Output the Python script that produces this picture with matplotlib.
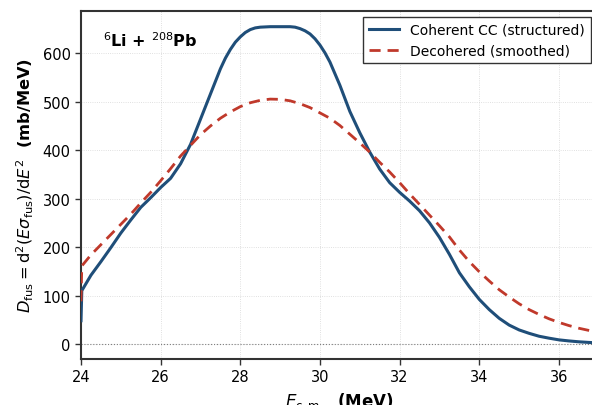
import matplotlib
matplotlib.use("Agg")
import matplotlib.pyplot as plt

# Coherent CC (structured)
E_coh = [24.0, 24.02, 24.25, 24.5, 24.75, 25.0, 25.25, 25.5, 25.75, 26.0, 26.25, 26.5, 26.75,
         27.0, 27.25, 27.5, 27.625, 27.75, 27.875, 28.0, 28.125, 28.25, 28.375, 28.5, 28.75,
         29.0, 29.25, 29.375, 29.5, 29.625, 29.75, 29.875, 30.0, 30.125, 30.25, 30.5, 30.75,
         31.0, 31.25, 31.5, 31.75, 32.0, 32.25, 32.5, 32.75, 33.0, 33.25, 33.5, 33.75,
         34.0, 34.25, 34.5, 34.75, 35.0, 35.25, 35.5, 35.75, 36.0, 36.25, 36.5, 36.75, 37.0]
D_coh = [48, 110, 142, 170, 199, 229, 256, 282, 302, 323, 342, 372, 412,
         464, 516, 568, 590, 608, 623, 634, 643, 649, 652.5, 654, 655,
         655, 655, 654, 651, 646.5, 640, 630, 617, 601, 582, 534, 480,
         436, 396, 361, 333, 313, 295, 275, 250, 220, 185, 147, 118,
         92, 71, 53, 39, 29, 22, 16, 12, 8.5, 6.3, 4.5, 3.2, 2.2]

# Decohered (smoothed)
E_dec = [24.0, 24.02, 24.25, 24.5, 24.75, 25.0, 25.25, 25.5, 25.75, 26.0, 26.25, 26.5, 26.75,
         27.0, 27.25, 27.5, 27.75, 28.0, 28.25, 28.5, 28.75, 29.0, 29.25, 29.5, 29.75,
         30.0, 30.25, 30.5, 30.75, 31.0, 31.25, 31.5, 31.75, 32.0, 32.25, 32.5, 32.75,
         33.0, 33.25, 33.5, 33.75, 34.0, 34.25, 34.5, 34.75, 35.0, 35.25, 35.5, 35.75,
         36.0, 36.25, 36.5, 36.75, 37.0]
D_dec = [88, 161, 184, 205, 226, 247, 268, 291, 313, 337, 362, 388, 410,
         432, 450, 466, 479, 490, 498, 503, 505.5, 505, 502, 496, 488,
         477, 466, 451, 433, 415, 396, 375, 355, 333, 310, 288, 266,
         244, 221, 194, 170, 149, 130, 112, 97, 83, 71, 61, 52,
         44.5, 38, 32.5, 28, 23.5]

x_ticks = [24, 26, 28, 30, 32, 34, 36]
y_ticks = [0, 100, 200, 300, 400, 500, 600]

fig = plt.figure(figsize=(5.92, 4.06), dpi=100)
ax = fig.add_axes([81 / 592, 1 - 360 / 406, 516 / 592, (360 - 11.7) / 406])

ax.plot(E_coh, D_coh, color="#1f4e79", lw=2.2, label="Coherent CC (structured)", zorder=3)
ax.plot(E_dec, D_dec, color="#c0392b", lw=2.0, ls=(0, (4, 2.5)), label="Decohered (smoothed)", zorder=3)
ax.axhline(0, color="gray", lw=0.8, ls=":", zorder=1)

ax.set_xlim(24, 36.955)
ax.set_ylim(-31, 688)
ax.set_xticks(x_ticks)
ax.set_yticks(y_ticks)
ax.grid(True, color="#cccccc", lw=0.6, ls=":", alpha=0.8)
ax.set_axisbelow(True)
for s in ax.spines.values():
    s.set_color("#333333")
    s.set_linewidth(1.5)
ax.tick_params(axis="both", labelsize=10.5, length=4, width=1.0, color="#333333")

ax.set_xlabel(r"$E_{\rm c.m.}$  (MeV)", fontsize=12, fontweight="bold", labelpad=4)
ax.set_ylabel(r"$D_{\rm fus} = {\rm d}^2(E\sigma_{\rm fus})/{\rm d}E^2$  (mb/MeV)",
              fontsize=11.7, fontweight="bold", labelpad=5)

ax.text(0.042, 0.918, r"$^{6}$Li + $^{208}$Pb", transform=ax.transAxes,
        fontsize=11.5, fontweight="bold", va="center", ha="left")

leg = ax.legend(loc="upper right", fontsize=10, frameon=True, fancybox=False,
                edgecolor="#333333", framealpha=1.0, handlelength=2.2,
                borderaxespad=0.45)
leg.get_frame().set_linewidth(1.0)

fig.savefig("out.png", dpi=100)
